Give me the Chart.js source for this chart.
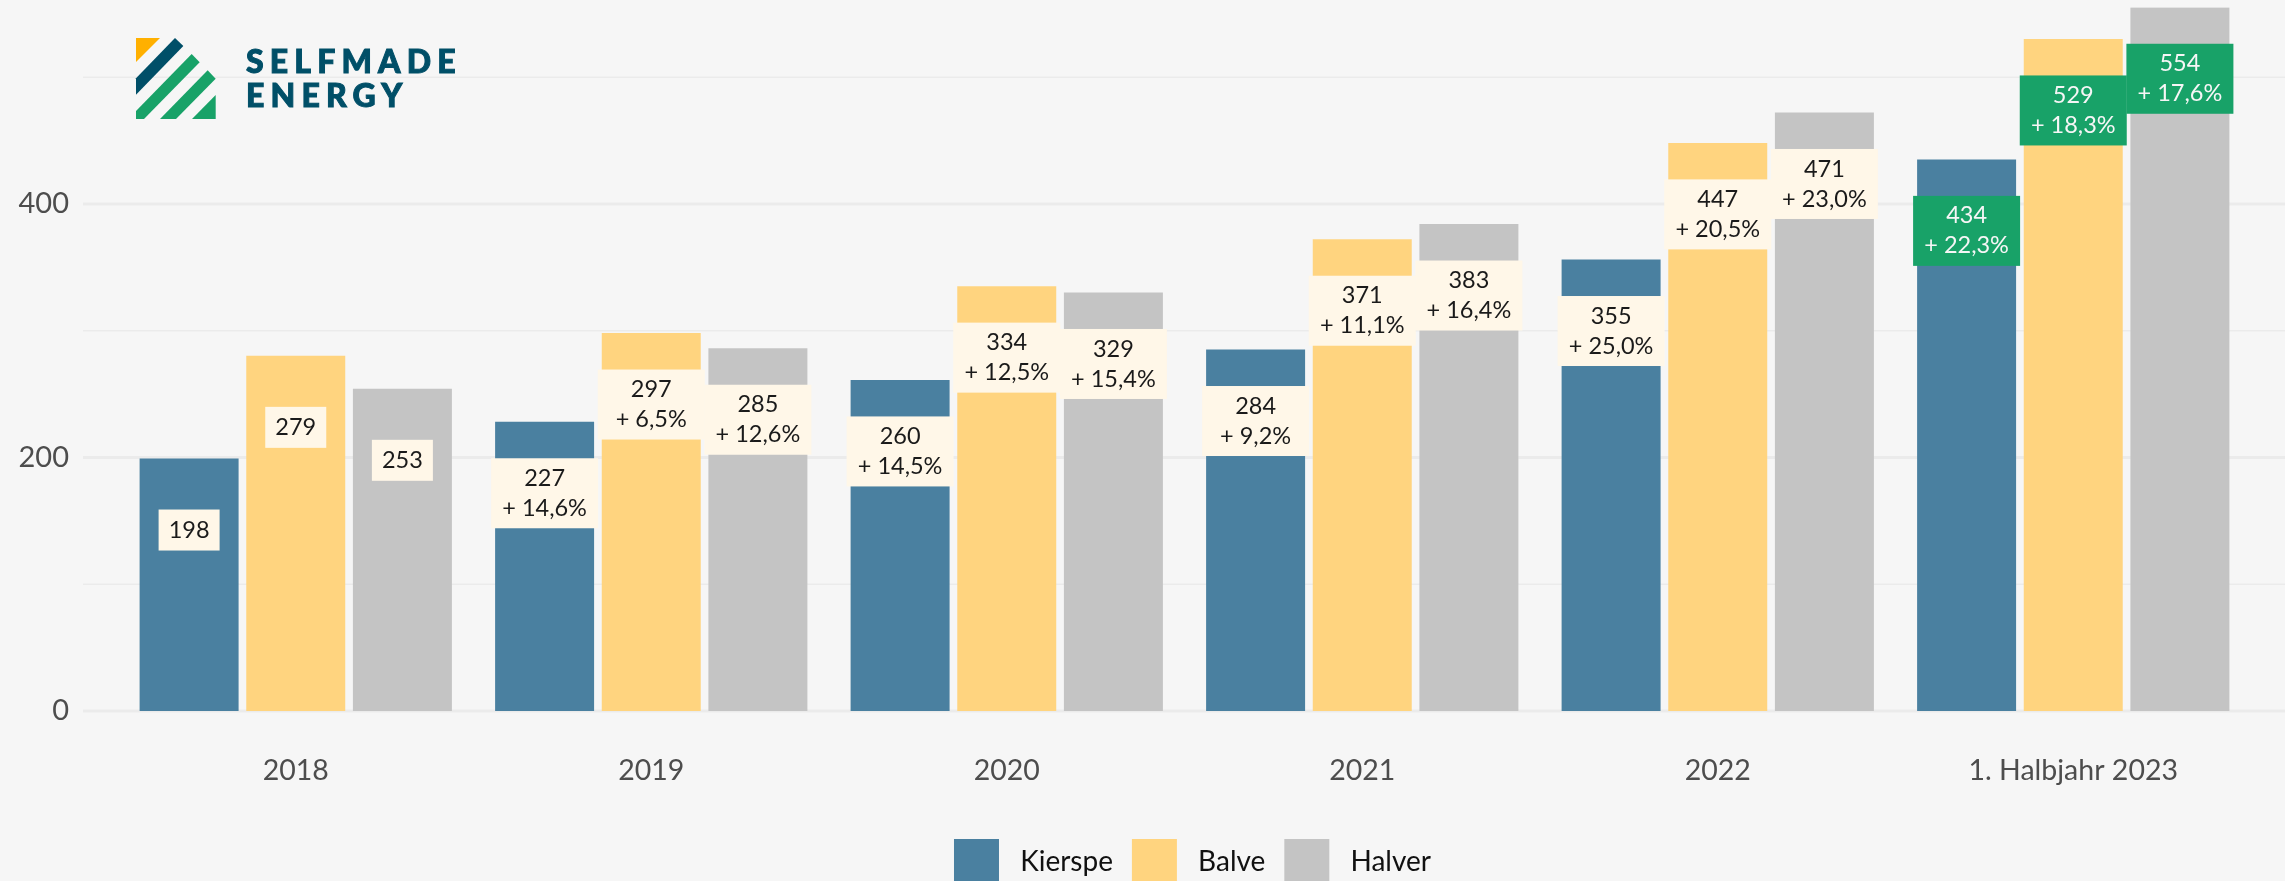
<!DOCTYPE html>
<html>
<head>
<meta charset="utf-8">
<style>
html, body { margin: 0; padding: 0; background: #f6f6f6; width: 2285px; height: 881px; overflow: hidden; }
#wrap { position: relative; width: 2285px; height: 894px; }
#logo { position: absolute; left: 120px; top: 30px; }
</style>
<script src="https://cdn.jsdelivr.net/npm/chart.js@4"></script>
</head>
<body>
<div id="wrap">
    <canvas id="myChart" width="2285" height="894" style="display:block;width:2285px;height:894px"></canvas>
    <!-- logo -->
    <svg id="logo" width="360" height="100" viewBox="0 0 1080 300">
        <polygon points="48,24 120,24 48,96" fill="#ffb000"/>
        <polygon points="165,24 190,48 48,194 48,145" fill="#004f68"/>
        <polygon points="215,72 239,97 72,267 48,267 48,243" fill="#18a268"/>
        <polygon points="263,121 287,146 168,267 120,267" fill="#18a268"/>
        <polygon points="287,195 287,267 216,267" fill="#18a268"/>
        <text x="378" y="130" font-family="Lato" font-weight="900" font-size="96" letter-spacing="18.5" fill="#004f68" stroke="#004f68" stroke-width="3">SELFMADE</text>
        <text x="378" y="230" font-family="Lato" font-weight="900" font-size="96" letter-spacing="18.5" fill="#004f68" stroke="#004f68" stroke-width="3">ENERGY</text>
    </svg>
</div>
<script>
var categories = ['2018', '2019', '2020', '2021', '2022', '1. Halbjahr 2023']
var kierspe = [198, 227, 260, 284, 355, 434]
var balve = [279, 297, 334, 371, 447, 529]
var halver = [253, 285, 329, 383, 471, 554]
var kierspeChange = ['', '+ 14,6%', '+ 14,5%', '+ 9,2%', '+ 25,0%', '+ 22,3%']
var balveChange = ['', '+ 6,5%', '+ 12,5%', '+ 11,1%', '+ 20,5%', '+ 18,3%']
var halverChange = ['', '+ 12,6%', '+ 15,4%', '+ 16,4%', '+ 23,0%', '+ 17,6%']
var yTickLabels = [0, 200, 400]

var changes = [kierspeChange, balveChange, halverChange]
var fontName = 'Lato, "Open Sans", sans-serif'

/** y grid lines run past the plot area, over the whole width */
var wideGrid = {
    id: 'wideGrid',
    afterLayout: function (chart) {
        // legend sits right of the canvas centre in the original
        chart.legend.left += 67
        chart.legend.right += 67
    },
    beforeDatasetsDraw: function (chart) {
        var ctx = chart.ctx
        var y = chart.scales.y
        ctx.save()
        y.ticks.forEach(function (t) {
            var major = yTickLabels.indexOf(t.value) >= 0
            var py = y.getPixelForValue(t.value)
            ctx.strokeStyle = '#ebebeb'
            ctx.lineWidth = major ? 3 : 1.5
            ctx.beginPath()
            ctx.moveTo(83, py)
            ctx.lineTo(2285, py)
            ctx.stroke()
        })
        ctx.restore()
    }
}

/** value boxes on the bars, green for the last year */
var valueBoxes = {
    id: 'valueBoxes',
    afterDatasetsDraw: function (chart) {
        var ctx = chart.ctx
        ctx.save()
        ctx.textAlign = 'center'
        ctx.textBaseline = 'middle'
        ctx.font = '23.5px ' + fontName
        chart.data.datasets.forEach(function (ds, d) {
            chart.getDatasetMeta(d).data.forEach(function (bar, i) {
                var change = changes[d][i]
                var last = i === categories.length - 1
                var w = change ? 107 : 61
                var h = change ? 70 : 41
                var cy = bar.y + 70
                ctx.fillStyle = last ? '#18a268' : '#fff7e8'
                ctx.fillRect(bar.x - w / 2, cy - h / 2, w, h)
                ctx.fillStyle = last ? '#f6f6f6' : '#1a1a1a'
                if (change) {
                    ctx.fillText(String(ds.data[i]), bar.x, cy - 15)
                    ctx.fillText(change, bar.x, cy + 15)
                } else {
                    ctx.fillText(String(ds.data[i]), bar.x, cy)
                }
            })
        })
        ctx.restore()
    }
}

var myChart = new Chart(document.getElementById('myChart').getContext('2d'), {
    type: 'bar',
    data: {
        labels: categories,
        datasets: [
            { label: 'Kierspe', data: kierspe, backgroundColor: '#4a80a0' },
            { label: 'Balve', data: balve, backgroundColor: '#ffd47f' },
            { label: 'Halver', data: halver, backgroundColor: '#c4c4c4' }
        ]
    },
    options: {
        responsive: false,
        animation: false,
        layout: { padding: { top: 7.5, right: 34, left: 0, bottom: 0 } },
        // the bars in the original have an outline of about 1.5px in their own colour
        datasets: { bar: { categoryPercentage: 0.9, barPercentage: 0.9, inflateAmount: 1.5 } },
        plugins: {
            tooltip: { enabled: false },
            legend: {
                position: 'bottom',
                labels: {
                    boxWidth: 45,
                    boxHeight: 45,
                    padding: 19,
                    color: '#111111',
                    font: { family: fontName, size: 28 },
                    generateLabels: function (chart) {
                        // a leading space widens the gap between swatch and text
                        return Chart.defaults.plugins.legend.labels.generateLabels(chart).map(function (item) {
                            item.text = ' ' + item.text
                            return item
                        })
                    }
                }
            }
        },
        scales: {
            x: {
                grid: { display: false },
                border: { display: false },
                ticks: { color: '#4d4d4d', padding: 35, font: { family: fontName, size: 28.5 } },
                afterFit: function (scale) { scale.height = 109 }
            },
            y: {
                min: 0,
                max: 555,
                grid: { display: false },
                border: { display: false },
                afterFit: function (scale) {
                    scale.width = 118
                    // tick padding also gets added above and below the axis otherwise
                    scale.paddingTop = 0
                    scale.paddingBottom = 0
                },
                ticks: {
                    stepSize: 100,
                    includeBounds: false,
                    autoSkip: false,
                    color: '#4d4d4d',
                    padding: 41,
                    font: { family: fontName, size: 29 },
                    callback: function (v) { return yTickLabels.indexOf(v) >= 0 ? String(v) : '' }
                }
            }
        }
    },
    plugins: [wideGrid, valueBoxes]
})
</script>
</body>
</html>
